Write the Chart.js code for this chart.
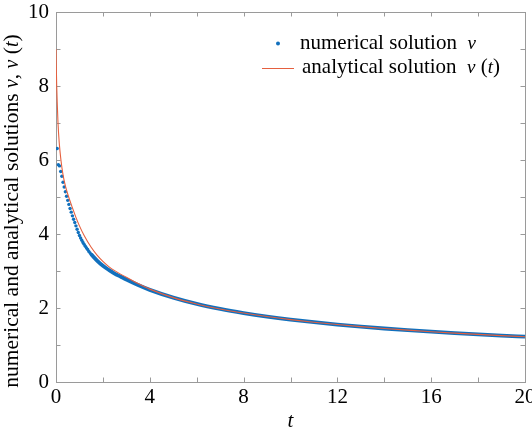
<!DOCTYPE html>
<html>
<head>
<meta charset="utf-8">
<script src="https://cdn.jsdelivr.net/npm/chart.js@4"></script>
<style>
  html, body { margin: 0; padding: 0; background: #fff; }
  canvas { display: block; }
</style>
</head>
<body>
<canvas id="chart" width="532" height="434"></canvas>
<script>
// numerical solution v (dots)
const numT = [0.05, 0.1, 0.15, 0.2, 0.25, 0.3, 0.35, 0.4, 0.45, 0.5,
  0.55, 0.6, 0.65, 0.7, 0.75, 0.8, 0.85, 0.9, 0.95, 1.0,
  1.05, 1.1, 1.15, 1.2, 1.25, 1.3, 1.35, 1.4, 1.45, 1.5,
  1.75, 2, 2.25, 2.5, 2.75, 3, 3.5, 4,
  5, 6, 7, 8, 9, 10, 11, 12, 13, 14, 15, 16, 17, 18, 19, 20];
const numV = [6.31, 5.87, 5.84, 5.69, 5.56, 5.40, 5.27, 5.14, 5.02, 4.91,
  4.80, 4.69, 4.59, 4.49, 4.40, 4.31, 4.22, 4.13, 4.04, 3.96,
  3.89, 3.83, 3.77, 3.72, 3.67, 3.62, 3.58, 3.53, 3.49, 3.45,
  3.28, 3.14, 3.03, 2.93, 2.85, 2.77, 2.62, 2.49,
  2.28, 2.11, 1.975, 1.864, 1.769, 1.687, 1.616, 1.553, 1.497, 1.446, 1.401, 1.359, 1.321, 1.286, 1.254, 1.224];

// analytical solution v(t) (thin red line)
const anaT = [0, 0.01, 0.03, 0.055, 0.085, 0.14, 0.21, 0.3, 0.4, 0.54,
  0.7, 0.85, 1.0, 1.2, 1.5, 1.75, 2, 2.25, 2.5, 3, 3.5, 4,
  5, 6, 7, 8, 9, 10, 11, 12, 13, 14, 15, 16, 17, 18, 19, 20];
const anaV = [9.0, 8.6, 8.0, 7.5, 7.0, 6.45, 6.0, 5.6, 5.3, 5.0,
  4.71, 4.45, 4.22, 3.96, 3.64, 3.43, 3.26, 3.12, 3.01, 2.83, 2.66, 2.51,
  2.28, 2.11, 1.975, 1.864, 1.769, 1.687, 1.616, 1.553, 1.497, 1.446, 1.401, 1.359, 1.321, 1.286, 1.254, 1.224];

const xLabels = [0, 4, 8, 12, 16, 20];
const yLabels = [0, 2, 4, 6, 8, 10];

const BLUE = '#1170bd';
const RED = '#e5603f';
const FRAME = '#9a9a9a';
const FONT = '"Liberation Serif", "Times New Roman", serif';
const DOTS_UNTIL = 1.5;   // after this the dots merge into a band

// frame + inward ticks on all four sides
const framePlugin = {
  id: 'frame',
  beforeDatasetsDraw(chart) {
    const { ctx, chartArea: a, scales } = chart;
    ctx.save();
    ctx.strokeStyle = FRAME;
    ctx.lineWidth = 1;
    ctx.strokeRect(a.left + 0.5, a.top + 0.5, a.right - a.left, a.bottom - a.top);
    const len = 4.5;
    ctx.beginPath();
    scales.x.ticks.forEach(t => {
      const px = Math.round(scales.x.getPixelForValue(t.value)) + 0.5;
      ctx.moveTo(px, a.bottom); ctx.lineTo(px, a.bottom - len);
      ctx.moveTo(px, a.top); ctx.lineTo(px, a.top + len);
    });
    scales.y.ticks.forEach(t => {
      const py = Math.round(scales.y.getPixelForValue(t.value)) + 0.5;
      ctx.moveTo(a.left, py); ctx.lineTo(a.left + len, py);
      ctx.moveTo(a.right, py); ctx.lineTo(a.right - len, py);
    });
    ctx.stroke();
    ctx.restore();
  }
};

// draws a run of [text, italic, size] pieces starting at x
function drawRun(ctx, pieces, x, y, size) {
  pieces.forEach(([txt, it, sz]) => {
    ctx.font = (it ? 'italic ' : '') + (sz || size) + 'px ' + FONT;
    ctx.fillText(txt, x, y);
    x += ctx.measureText(txt).width;
  });
  return x;
}
function runWidth(ctx, pieces, size) {
  let w = 0;
  pieces.forEach(([txt, it, sz]) => {
    ctx.font = (it ? 'italic ' : '') + (sz || size) + 'px ' + FONT;
    w += ctx.measureText(txt).width;
  });
  return w;
}

// legend and axis titles (mixed roman / italic)
const textPlugin = {
  id: 'texts',
  afterDraw(chart) {
    const { ctx, chartArea: a } = chart;
    ctx.save();
    ctx.textBaseline = 'alphabetic';
    ctx.textAlign = 'left';

    // legend
    ctx.fillStyle = BLUE;
    ctx.beginPath();
    ctx.arc(278, 43.5, 2, 0, Math.PI * 2);
    ctx.fill();
    ctx.strokeStyle = RED;
    ctx.lineWidth = 1;
    ctx.beginPath();
    ctx.moveTo(262, 68.5); ctx.lineTo(294, 68.5);
    ctx.stroke();
    ctx.fillStyle = '#000';
    drawRun(ctx, [['numerical solution  ', false], ['v', true, 19]], 300, 49, 21);
    drawRun(ctx, [['analytical solution  ', false], ['v', true, 19], [' (', false], ['t', true, 19], [')', false]], 302, 73, 21);

    // x title
    ctx.font = 'italic 21px ' + FONT;
    ctx.textAlign = 'center';
    ctx.fillText('t', (a.left + a.right) / 2, 427);

    // y title, rotated
    const yt = [['numerical and analytical solutions ', false], ['v', true, 20], [', ', false],
      ['v', true, 20], [' (', false], ['t', true, 20], [')', false]];
    ctx.textAlign = 'left';
    const w = runWidth(ctx, yt, 21.5);
    ctx.translate(18, 211);
    ctx.rotate(-Math.PI / 2);
    drawRun(ctx, yt, -w / 2, 0, 21.5);
    ctx.restore();
  }
};

const ctx = document.getElementById('chart').getContext('2d');
const chart = new Chart(ctx, {
  type: 'scatter',
  data: {
    datasets: [
      {
        label: 'numerical solution v',
        data: numT.map((t, i) => ({ x: t, y: numV[i] })),
        showLine: true,
        cubicInterpolationMode: 'monotone',
        borderWidth: 3.8,
        borderColor: BLUE,
        backgroundColor: BLUE,
        pointBorderWidth: 0,
        pointRadius: c => (c.parsed && c.parsed.x <= DOTS_UNTIL ? 1.7 : 0),
        pointHoverRadius: 0,
        segment: {
          borderColor: c => (c.p0.parsed.x >= DOTS_UNTIL ? BLUE : 'rgba(0,0,0,0)')
        },
        order: 2
      },
      {
        label: 'analytical solution v(t)',
        data: anaT.map((t, i) => ({ x: t, y: anaV[i] })),
        showLine: true,
        cubicInterpolationMode: 'monotone',
        borderWidth: 1.1,
        borderColor: RED,
        pointRadius: 0,
        pointHoverRadius: 0,
        order: 1
      }
    ]
  },
  options: {
    responsive: false,
    animation: false,
    events: [],
    layout: { padding: { top: 12, right: 7, left: 0, bottom: 0 } },
    plugins: { legend: { display: false }, tooltip: { enabled: false } },
    scales: {
      x: {
        type: 'linear',
        min: 0, max: 20,
        grid: { display: false, drawTicks: false },
        border: { display: false },
        ticks: {
          stepSize: 2,
          autoSkip: false,
          maxRotation: 0,
          padding: 3,
          color: '#000',
          font: { family: FONT, size: 21 },
          callback: v => (xLabels.includes(v) ? String(v) : '')
        },
        afterFit: s => { s.height = 52; s.paddingLeft = 0; s.paddingRight = 0; }
      },
      y: {
        type: 'linear',
        min: 0, max: 10,
        grid: { display: false, drawTicks: false },
        border: { display: false },
        ticks: {
          stepSize: 1,
          autoSkip: false,
          padding: 7,
          color: '#000',
          font: { family: FONT, size: 21 },
          callback: v => (yLabels.includes(v) ? String(v) : '')
        },
        afterFit: s => { s.width = 56; s.paddingTop = 0; s.paddingBottom = 0; }
      }
    }
  },
  plugins: [framePlugin, textPlugin]
});
</script>
</body>
</html>
